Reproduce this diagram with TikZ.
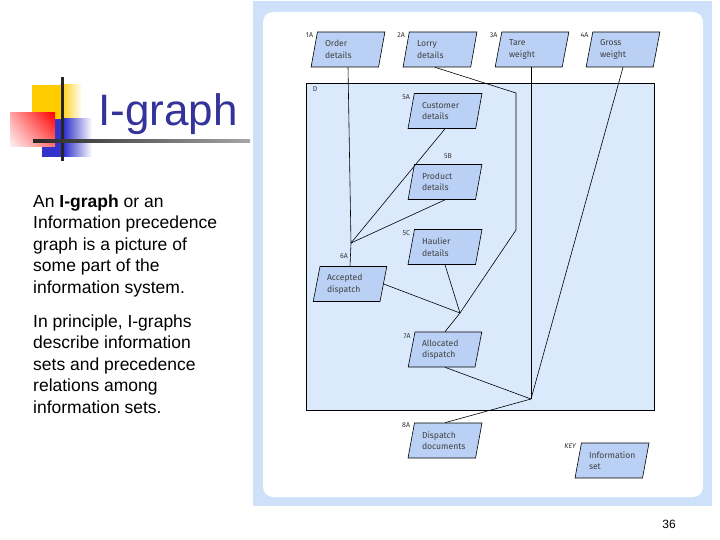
\documentclass[tikz,border=0pt]{standalone}
\usepackage{fontspec}
\setmainfont{Liberation Sans}
\newfontfamily\diagfont{Fira Sans}
\usetikzlibrary{shapes.geometric,shadings,positioning,calc}
\definecolor{framebg}{RGB}{206,225,250}
\definecolor{dfill}{RGB}{219,233,252}
\definecolor{setfill}{RGB}{186,209,245}
\definecolor{titleblue}{RGB}{51,51,153}
\definecolor{decoyellow}{RGB}{255,204,0}
\definecolor{decoblue}{RGB}{51,51,204}

\begin{document}
\begin{tikzpicture}[x=1pt, y=-1pt,
    infoset/.style={draw, trapezium, trapezium left angle=76, trapezium right angle=104, trapezium stretches=true, minimum width=74pt, minimum height=35pt, inner sep=1pt, text width=46pt, align=left, font=\diagfont\fontsize{8.6}{11.5}\selectfont, text=black!75, fill=setfill, line width=0.6pt},
    tag/.style={font=\diagfont\fontsize{7}{7}\selectfont, text=black!80, inner sep=0pt, anchor=east},
    link/.style={line width=0.6pt},
    dset/.style={draw, fill=dfill, minimum width=348pt, minimum height=327pt, inner sep=0pt, line width=0.6pt},
    body/.style={anchor=base west, align=left, inner sep=0pt, font=\fontsize{17.5}{21.6}\selectfont}
]
\useasboundingbox (0,0) rectangle (720,540);
\fill[white] (0,0) rectangle (720,540);

% slide decoration
\fill[decoyellow] (32,85) rectangle (60,119);
\shade[left color=decoyellow, right color=white] (60,85) rectangle (82,119);
\fill[decoblue] (42,119) rectangle (64,157);
\shade[left color=decoblue, right color=white] (64,119) rectangle (92,157);
\shade[upper left=red!35, upper right=red, lower left=red!5, lower right=red!55] (10,113) rectangle (55,147);
\fill[black!85] (60.5,77) rectangle (63.5,161);
\shade[left color=black!85, right color=black!35] (33,139.5) rectangle (250,142.5);

\node[anchor=base west, inner sep=0pt, text=titleblue, font=\fontsize{44}{44}\selectfont] (title) at (98,126) {I-graph};
% base of a multi-line node is its last line
\node[body] (para1) at (33,293.4) {An \textbf{I-graph} or an\\Information precedence\\graph is a picture of\\some part of the\\information system.};
\node[body] (para2) at (33,413.4) {In principle, I-graphs\\describe information\\sets and precedence\\relations among\\information sets.};
\node[anchor=base, inner sep=0pt, font=\fontsize{12}{12}\selectfont] (pgnum) at (669,528) {36};

% figure frame
\fill[framebg] (253,1) rectangle (712,506);
\fill[white, rounded corners=10pt] (263,12) rectangle (703,497);

% information sets
\node[dset] (d) at (480,246.5) {};
\node[tag, anchor=north west] (td) at ([xshift=7pt,yshift=-4pt]d.north west) {D};
\node[infoset] (n1a) at (348,49.5) {Order\\details};
\node[infoset] (n2a) at (440,49.5) {Lorry\\details};
\node[infoset] (n3a) at (532,49.5) {Tare\\weight};
\node[infoset] (n4a) at (623,49.5) {Gross\\weight};
\node[infoset] (n5a) at (445,111) {Customer\\details};
\node[infoset] (n5b) at (445,182) {Product\\details};
\node[infoset] (n5c) at (445,247) {Haulier\\details};
\node[infoset] (n6a) at (350,284) {Accepted\\dispatch};
\node[infoset] (n7a) at (445,349.5) {Allocated\\dispatch};
\node[infoset] (n8a) at (445,440.5) {Dispatch\\documents};
\node[infoset] (nkey) at (612,460.5) {Information\\set};

\node[tag] (t1a) at ([xshift=-4pt,yshift=-3pt]n1a.top left corner) {1A};
\node[tag] (t2a) at ([xshift=-4pt,yshift=-3pt]n2a.top left corner) {2A};
\node[tag] (t3a) at ([xshift=-4pt,yshift=-3pt]n3a.top left corner) {3A};
\node[tag] (t4a) at ([xshift=-4pt,yshift=-3pt]n4a.top left corner) {4A};
\node[tag] (t5a) at ([xshift=-4pt,yshift=-4pt]n5a.top left corner) {5A};
\node[tag, anchor=south] (t5b) at ([xshift=3pt,yshift=5pt]n5b.north) {5B};
\node[tag] (t5c) at ([xshift=-4pt,yshift=-4pt]n5c.top left corner) {5C};
\node[tag, anchor=south] (t6a) at ([xshift=-6pt,yshift=7pt]n6a.north) {6A};
\node[tag] (t7a) at ([xshift=-4pt,yshift=-4pt]n7a.top left corner) {7A};
\node[tag] (t8a) at ([xshift=-4pt,yshift=-2pt]n8a.top left corner) {8A};
\node[tag, font=\diagfont\itshape\fontsize{7}{7}\selectfont] (tkey) at ([xshift=-5pt,yshift=-3pt]nkey.top left corner) {KEY};

% junctions
\coordinate (j6) at (351,243);
\coordinate (j7) at (460,313);
\coordinate (j8) at (531,399);
\coordinate (b1) at (516,93);
\coordinate (b2) at (516,230);

% precedence
\draw[link] (n1a.south) -- (j6);
\draw[link] (n5a.south) -- (j6);
\draw[link] (n5b.south) -- (j6);
\draw[link] (j6) -- (n6a.north);
\draw[link] (n5c.south) -- (j7);
\draw[link] (n6a.east) -- (j7);
\draw[link] ([xshift=-5pt]n2a.south) -- (b1) -- (b2) -- (j7);
\draw[link] (j7) -- (n7a.north);
\draw[link] (n7a.south) -- (j8);
\draw[link] (j8 |- n3a.south) -- (j8);
\draw[link] (n4a.south) -- (j8);
\draw[link] (j8) -- (n8a.north);
\end{tikzpicture}
\end{document}
